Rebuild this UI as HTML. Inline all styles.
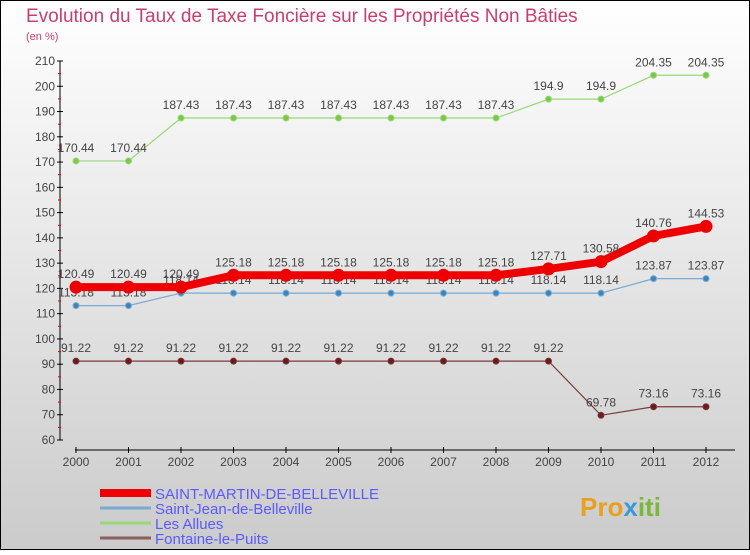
<!DOCTYPE html>
<html><head><meta charset="utf-8"><style>
body{margin:0;}
#c{width:750px;height:550px;position:relative;font-family:"Liberation Sans",sans-serif;}
</style></head><body>
<div id="c">
<svg id="s" width="750" height="550" xmlns="http://www.w3.org/2000/svg">
<defs><linearGradient id="bg" x1="0" y1="0" x2="0" y2="1"><stop offset="0" stop-color="#ffffff"/><stop offset="1" stop-color="#cbcbcb"/></linearGradient></defs>
<rect x="0.5" y="0.5" width="749" height="549" fill="url(#bg)" stroke="#000"/>
<text x="26" y="22" font-size="19" fill="#c8406a">Evolution du Taux de Taxe Foncière sur les Propriétés Non Bâties</text>
<text x="26" y="40" font-size="11" fill="#c8406a">(en %)</text>
<g id="axes"></g><g id="series"></g><g id="legend"></g>
<text x="580" y="516" font-size="26" font-weight="bold" fill="#e8a020">Pro<tspan fill="#3a9ad9">x</tspan><tspan fill="#7ab83a">iti</tspan></text>
</svg>
</div>
<script>
const years=[2000,2001,2002,2003,2004,2005,2006,2007,2008,2009,2010,2011,2012];
const yTicks=[60,70,80,90,100,110,120,130,140,150,160,170,180,190,200,210];
const saintMartin=[120.49,120.49,120.49,125.18,125.18,125.18,125.18,125.18,125.18,127.71,130.58,140.76,144.53];
const saintJean=[113.18,113.18,118.14,118.14,118.14,118.14,118.14,118.14,118.14,118.14,118.14,123.87,123.87];
const lesAllues=[170.44,170.44,187.43,187.43,187.43,187.43,187.43,187.43,187.43,194.9,194.9,204.35,204.35];
const fontaine=[91.22,91.22,91.22,91.22,91.22,91.22,91.22,91.22,91.22,91.22,69.78,73.16,73.16];
const names=["SAINT-MARTIN-DE-BELLEVILLE","Saint-Jean-de-Belleville","Les Allues","Fontaine-le-Puits"];
const NS="http://www.w3.org/2000/svg";
function X(i){return 76+i*52.5;}
function Y(v){return 440-(v-60)*(379/150);}
function mk(t,a,p){const e=document.createElementNS(NS,t);for(const k in a)e.setAttribute(k,a[k]);p.appendChild(e);return e;}
const ax=document.getElementById('axes');
let l=mk('line',{x1:60,y1:Y(210),x2:60,y2:Y(60),stroke:'#000'},ax);


yTicks.forEach((v,k)=>{
 mk('line',{x1:57,x2:63,y1:Y(v),y2:Y(v),stroke:'#000'},ax);
 if(k<yTicks.length-1) mk('line',{x1:58,x2:61,y1:Y(v+5),y2:Y(v+5),stroke:'#e00'},ax);
 const t=mk('text',{x:55,y:Y(v)+4,'font-size':12,'text-anchor':'end',fill:'#444'},ax);t.textContent=v;
 
 
});
l=mk('line',{x1:75,y1:450,x2:735,y2:450,stroke:'#000'},ax);


years.forEach((y,i)=>{
 mk('line',{x1:X(i),x2:X(i),y1:447,y2:453,stroke:'#000'},ax);
 const t=mk('text',{x:X(i),y:466,'font-size':12,'text-anchor':'middle',fill:'#444'},ax);t.textContent=y;
 
 
});
const sg=document.getElementById('series');
function fmt(v){return String(Math.round(v*100)/100);}
function draw(data,color,dot,w,r,name){
 const g=mk('g',{},sg);
 
 
 mk('polyline',{points:data.map((v,i)=>X(i)+','+Y(v)).join(' '),fill:'none',stroke:color,'stroke-width':w},g);
 data.forEach((v,i)=>{
  const c=mk('circle',{cx:X(i),cy:Y(v),r:r,fill:dot,stroke:color,'stroke-width':1},g);
  
  
  const t=mk('text',{x:X(i),y:Y(v)-9,'font-size':12,'text-anchor':'middle',fill:'#444'},g);t.textContent=fmt(v);
  
  
 });
}
draw(fontaine,'#7a3a3a','#6a1a1a',1.2,3,'fontaine-series');
draw(lesAllues,'#98d878','#7ac943',1.2,3,'les-allues-series');
draw(saintJean,'#7aaad0','#3a85c0',1.2,3,'saint-jean-series');
draw(saintMartin,'#ee0000','#ee0000',8,6,'saint-martin-series');
const lg=document.getElementById('legend');
const cols=['#ee0000','#7aaad0','#98d878','#8a6060'],ws=[8,3,3,3];
names.forEach((n,i)=>{
 const y=493+i*15;
 const g=mk('g',{},lg);
 
 
 mk('line',{x1:100,x2:151,y1:y,y2:y,stroke:cols[i],'stroke-width':ws[i]},g);
 const t=mk('text',{x:155,y:y+6,'font-size':15,fill:'#5a5aff'},g);t.textContent=n;
});
</script>
</body></html>
